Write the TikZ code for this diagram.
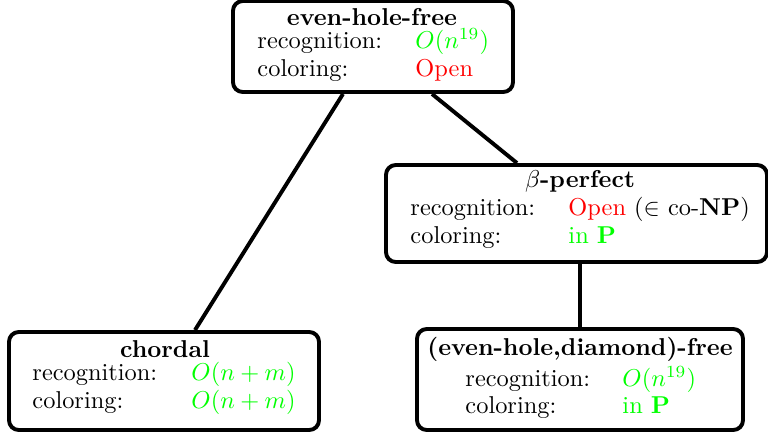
\documentclass[tikz,border=0pt]{standalone}
\usepackage{xcolor}
\begin{document}
\begin{tikzpicture}[x=0.41pt,y=-0.41pt,
  box/.style={draw,line width=1.6pt,rounded corners=4pt},
  lbl/.style={anchor=base west,inner sep=0pt},
  ttl/.style={anchor=base,inner sep=0pt},
  conn/.style={line width=1.6pt},
  ok/.style={text=green},
  no/.style={text=red}]
\useasboundingbox (0,0) rectangle (768,433);
% boxes
\node[box,minimum width=280*0.41pt,minimum height=91*0.41pt] (ehf) at (373,46.5) {};
\node[box,minimum width=381*0.41pt,minimum height=97*0.41pt] (bp) at (576.5,213.5) {};
\node[box,minimum width=310*0.41pt,minimum height=98*0.41pt] (ch) at (164,381) {};
\node[box,minimum width=326*0.41pt,minimum height=101*0.41pt] (ehd) at (580,379.5) {};
% connector end points
\path (ehf.south) ++(-30,0) coordinate (e1);
\path (ehf.south) ++(59,0) coordinate (e2);
\path (ch.north) ++(31,0) coordinate (c1);
\path (bp.north) ++(-59.5,0) coordinate (b1);
\path (bp.south) ++(3.5,0) coordinate (b2);
\path (ehd.north) coordinate (d1);
\draw[conn] (e1) -- (c1);
\draw[conn] (e2) -- (b1);
\draw[conn] (b2) -- (d1);
% even-hole-free
\node[ttl] (t1) at (372,25) {\textbf{even-hole-free}};
\node[lbl] (r1) at (257,48) {recognition:};
\node[lbl,ok] (rv1) at (415,48) {$O(n^{19})$};
\node[lbl] (k1) at (257,76) {coloring:};
\node[lbl,no] (kv1) at (415,76) {Open};
% beta-perfect
\node[ttl] (t2) at (580,187) {$\beta$\textbf{-perfect}};
\node[lbl] (r2) at (410,215) {recognition:};
\node[lbl] (rv2) at (568,215) {\textcolor{red}{Open} ($\in$ co-\textbf{NP})};
\node[lbl] (k2) at (410,243) {coloring:};
\node[lbl,ok] (kv2) at (568,243) {in \textbf{P}};
% chordal
\node[ttl] (t3) at (165,357) {\textbf{chordal}};
\node[lbl] (r3) at (32,380) {recognition:};
\node[lbl,ok] (rv3) at (191,380) {$O(n+m)$};
\node[lbl] (k3) at (32,408) {coloring:};
\node[lbl,ok] (kv3) at (191,408) {$O(n+m)$};
% (even-hole,diamond)-free
\node[ttl] (t4) at (580,355) {\textbf{(even-hole,diamond)-free}};
\node[lbl] (r4) at (465,386) {recognition:};
\node[lbl,ok] (rv4) at (622,386) {$O(n^{19})$};
\node[lbl] (k4) at (465,413) {coloring:};
\node[lbl,ok] (kv4) at (622,413) {in \textbf{P}};
\end{tikzpicture}
\end{document}
